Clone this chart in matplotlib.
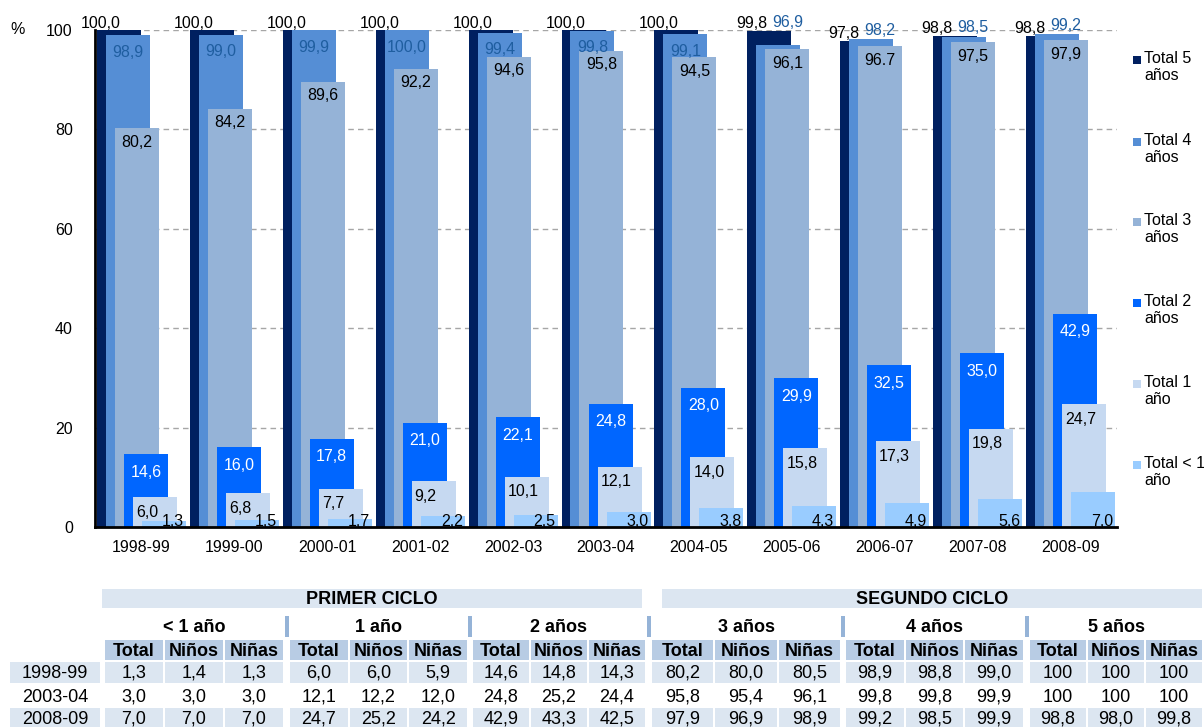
import matplotlib
matplotlib.use('Agg')
from matplotlib import pyplot as plt
from matplotlib.patches import Rectangle

plt.rcParams['font.family'] = ['Liberation Sans', 'DejaVu Sans']

# chart data
years = ['1998-99', '1999-00', '2000-01', '2001-02', '2002-03', '2003-04',
         '2004-05', '2005-06', '2006-07', '2007-08', '2008-09']
total_5 = [100.0, 100.0, 100.0, 100.0, 100.0, 100.0, 100.0, 99.8, 97.8, 98.8, 98.8]
total_4 = [98.9, 99.0, 99.9, 100.0, 99.4, 99.8, 99.1, 96.9, 98.2, 98.5, 99.2]
total_3 = [80.2, 84.2, 89.6, 92.2, 94.6, 95.8, 94.5, 96.1, 96.7, 97.5, 97.9]
total_2 = [14.6, 16.0, 17.8, 21.0, 22.1, 24.8, 28.0, 29.9, 32.5, 35.0, 42.9]
total_1 = [6.0, 6.8, 7.7, 9.2, 10.1, 12.1, 14.0, 15.8, 17.3, 19.8, 24.7]
total_0 = [1.3, 1.5, 1.7, 2.2, 2.5, 3.0, 3.8, 4.3, 4.9, 5.6, 7.0]
legend_labels = ['Total 5\naños', 'Total 4\naños', 'Total 3\naños',
                 'Total 2\naños', 'Total 1\naño', 'Total < 1\naño']

# table data
ciclos = ['PRIMER CICLO', 'SEGUNDO CICLO']
edades = ['< 1 año', '1 año', '2 años', '3 años', '4 años', '5 años']
sub_cols = ['Total', 'Niños', 'Niñas']
table_years = ['1998-99', '2003-04', '2008-09']
table_vals = [
    ['1,3', '1,4', '1,3', '6,0', '6,0', '5,9', '14,6', '14,8', '14,3',
     '80,2', '80,0', '80,5', '98,9', '98,8', '99,0', '100', '100', '100'],
    ['3,0', '3,0', '3,0', '12,1', '12,2', '12,0', '24,8', '25,2', '24,4',
     '95,8', '95,4', '96,1', '99,8', '99,8', '99,9', '100', '100', '100'],
    ['7,0', '7,0', '7,0', '24,7', '25,2', '24,2', '42,9', '43,3', '42,5',
     '97,9', '96,9', '98,9', '99,2', '98,5', '99,9', '98,8', '98,0', '99,8'],
]

colors = ['#002060', '#558ED5', '#95B3D7', '#0066FF', '#C6D9F1', '#99CCFF']
band_col = '#DCE6F1'
head_col = '#B8CCE4'
sep_col = '#95B3D7'
fs = 11.5


def fmt(v):
    return f'{v:.1f}'.replace('.', ',')


W, H = 1204, 727
fig = plt.figure(figsize=(W / 100, H / 100), dpi=100)

ax = fig.add_axes([95 / W, (H - 527) / H, (1117 - 95) / W, (527 - 30) / H])
ax.set_xlim(-0.5, 10.5)
ax.set_ylim(0, 100)

px = 1022 / 11
bw = 44 / px
step = 9 / px
series = [total_5, total_4, total_3, total_2, total_1, total_0]
x = list(range(len(years)))
for k, vals in enumerate(series):
    xs = [i + (k - 2.5) * step for i in x]
    ax.bar(xs, vals, width=bw, color=colors[k], zorder=2 + k, linewidth=0)

# labels
t3_text = [fmt(v) for v in total_3]
t3_text[8] = '96.7'
for i in x:
    c = [i + (k - 2.5) * step for k in range(6)]
    ax.annotate(fmt(total_5[i]), (c[0], total_5[i]), xytext=(-18, 7),
                textcoords='offset pixels', ha='center', va='center',
                fontsize=fs, zorder=20, annotation_clip=False)
    if i < 7:
        ax.annotate(fmt(total_4[i]), (c[1], total_4[i]), xytext=(0, -17),
                    textcoords='offset pixels', ha='center', va='center',
                    fontsize=fs, color='#1F5EA0', zorder=20)
    else:
        top = max(total_4[i], total_5[i])
        ax.annotate(fmt(total_4[i]), (c[1], top), xytext=(9, 8),
                    textcoords='offset pixels', ha='center', va='center',
                    fontsize=fs, color='#1F5EA0', zorder=20, annotation_clip=False)
    ax.annotate(t3_text[i], (c[2], total_3[i]), xytext=(0, -14),
                textcoords='offset pixels', ha='center', va='center',
                fontsize=fs, zorder=20)
    ax.annotate(fmt(total_2[i]), (c[3], total_2[i]), xytext=(0, -18),
                textcoords='offset pixels', ha='center', va='center',
                fontsize=fs, color='white', zorder=20)
    ax.annotate(fmt(total_1[i]), (c[4] - bw / 2, total_1[i]), xytext=(3, -15),
                textcoords='offset pixels', ha='left', va='center',
                fontsize=fs, zorder=20)
    ax.annotate(fmt(total_0[i]), (c[5] + bw / 2, 0), xytext=(-2, 1),
                textcoords='offset pixels', ha='right', va='baseline',
                fontsize=fs, zorder=20, annotation_clip=False)

for y in [20, 40, 60, 80, 100]:
    ax.axhline(y, color='#A6A6A6', lw=1, ls=(0, (4, 3)), zorder=1)

ax.set_xticks(x)
ax.set_xticklabels(years, fontsize=fs)
ax.set_yticks([0, 20, 40, 60, 80, 100])
ax.set_yticklabels(['0', '20', '40', '60', '80', '100'], fontsize=fs)
ax.tick_params(axis='x', length=0, pad=9)
ax.tick_params(axis='y', length=0, pad=16)
for s in ['top', 'right']:
    ax.spines[s].set_visible(False)
ax.spines['left'].set_linewidth(2)
ax.spines['bottom'].set_linewidth(2)
ax.spines['left'].set_zorder(30)
ax.spines['bottom'].set_zorder(30)

# overlay in pixel coords for legend, % sign and table
ov = fig.add_axes([0, 0, 1, 1], zorder=-1)
ov.set_xlim(0, W)
ov.set_ylim(H, 0)
ov.axis('off')

ov.text(18, 30, '%', fontsize=fs, ha='center', va='center')

leg_y = [60, 142, 222, 303, 384, 465]
for k, lab in enumerate(legend_labels):
    ov.add_patch(Rectangle((1133, leg_y[k] - 4), 8, 8, color=colors[k], lw=0))
    ov.text(1144, leg_y[k] - 9, lab, fontsize=fs, ha='left', va='top',
            linespacing=1.13)

# table
band_x = [(102, 642), (662, 1202)]
for (x0, x1), name in zip(band_x, ciclos):
    ov.add_patch(Rectangle((x0, 589), x1 - x0, 19, color=band_col, lw=0))
    ov.text((x0 + x1) / 2, 599, name, fontsize=13, fontweight='bold',
            ha='center', va='center')

group_x0 = [105, 290, 473, 652, 846, 1030]
group_w = [178, 177, 172, 188, 177, 172]
row_y = [(662, 683), (686, 707), (708, 729)]
for g, name in enumerate(edades):
    gx, gw = group_x0[g], group_w[g]
    ov.text(gx + gw / 2, 628, name, fontsize=13, fontweight='bold',
            ha='center', va='center')
    if g > 0:
        sx = (group_x0[g - 1] + group_w[g - 1] + gx) / 2
        ov.add_patch(Rectangle((sx - 2, 616), 4, 21, color=sep_col, lw=0))
    cw = (gw - 4) / 3
    for c in range(3):
        cx = gx + c * (cw + 2)
        ov.add_patch(Rectangle((cx, 640), cw, 20, color=head_col, lw=0))
        ov.text(cx + cw / 2, 651, sub_cols[c], fontsize=13, fontweight='bold',
                ha='center', va='center')
        for r in range(3):
            y0, y1 = row_y[r]
            if r != 1:
                ov.add_patch(Rectangle((cx, y0), cw, y1 - y0, color=band_col, lw=0))
            ov.text(cx + cw / 2, (y0 + y1) / 2 + 1, table_vals[r][g * 3 + c],
                    fontsize=13, ha='center', va='center')

for r in range(3):
    y0, y1 = row_y[r]
    if r != 1:
        ov.add_patch(Rectangle((10, y0), 90, y1 - y0, color=band_col, lw=0))
    ov.text(55, (y0 + y1) / 2 + 1, table_years[r], fontsize=13,
            ha='center', va='center')

fig.savefig('out.png', dpi=100)
